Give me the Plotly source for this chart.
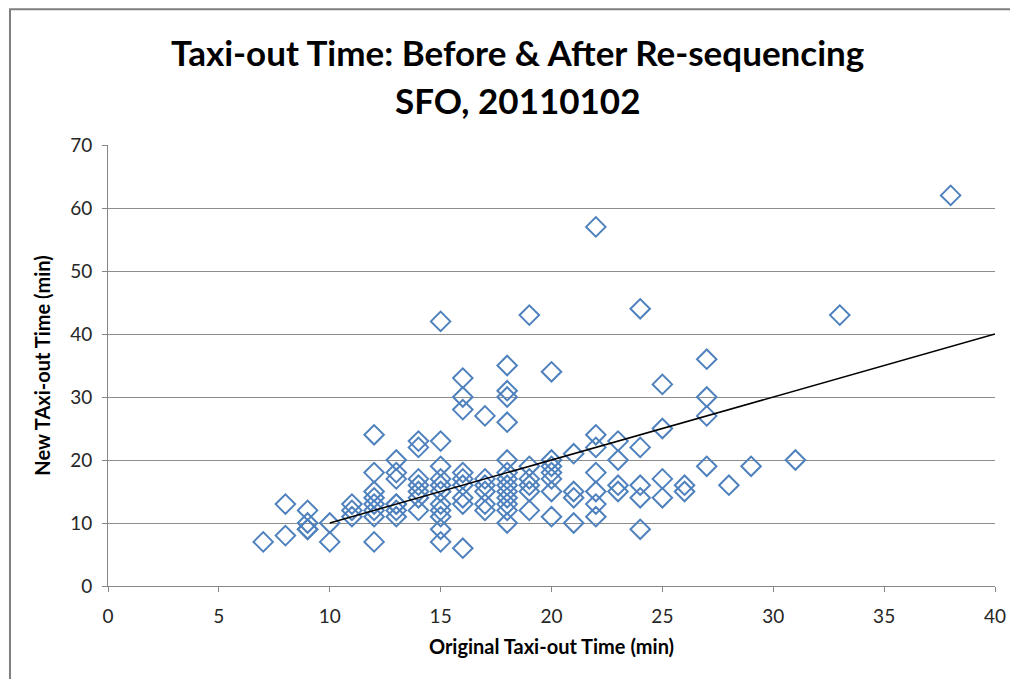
import plotly.graph_objects as go

# original taxi-out time (min) and new taxi-out time (min), read column by column
orig_time = (
    [7]
    + [8] * 2
    + [9] * 4
    + [10] * 2
    + [11] * 3
    + [12] * 8
    + [13] * 7
    + [14] * 7
    + [15] * 11
    + [16] * 9
    + [17] * 6
    + [18] * 13
    + [19] * 6
    + [20] * 7
    + [21] * 4
    + [22] * 7
    + [23] * 4
    + [24] * 5
    + [25] * 4
    + [26] * 2
    + [27] * 4
    + [28, 29, 31, 33, 38]
)
new_time = [
    7,
    13, 8,
    12, 10, 9, 9,
    10, 7,
    13, 12, 11,
    24, 18, 15, 14, 13, 12, 11, 7,
    20, 18, 17, 13, 13, 12, 11,
    23, 22, 17, 16, 15, 14, 12,
    42, 23, 19, 17, 16, 15, 13, 12, 11, 9, 7,
    33, 30, 28, 18, 17, 16, 14, 13, 6,
    27, 17, 16, 15, 13, 12,
    35, 31, 30, 26, 20, 18, 17, 16, 15, 14, 13, 12, 10,
    43, 19, 17, 16, 15, 12,
    34, 20, 19, 18, 17, 15, 11,
    21, 15, 14, 10,
    57, 24, 22, 18, 15, 13, 11,
    23, 20, 16, 15,
    44, 22, 16, 14, 9,
    32, 25, 17, 14,
    16, 15,
    36, 30, 27, 19,
    16, 19, 20, 43, 62,
]

# reference line (no change)
ref_x = [10, 40]
ref_y = [10, 40]

main_font = "Lato, 'Open Sans', sans-serif"

fig = go.Figure()
fig.add_trace(go.Scatter(
    x=orig_time, y=new_time, mode="markers",
    marker=dict(symbol="diamond-open", size=15, color="#4F81BD",
                line=dict(width=2, color="#4F81BD")),
    showlegend=False,
))
fig.add_trace(go.Scatter(
    x=ref_x, y=ref_y, mode="lines",
    line=dict(color="black", width=1.5),
    showlegend=False,
))

# page has an 8px body margin, so the figure is a bit smaller than the window
fig.update_layout(
    width=1010, height=671,
    margin=dict(l=100, r=23, t=137, b=93),
    paper_bgcolor="white", plot_bgcolor="white",
    font=dict(family=main_font, color="#000000"),
    annotations=[
        dict(text="<b>Taxi-out Time: Before &amp; After Re-sequencing</b>",
             xref="paper", yref="paper", x=0.462, y=1.212, xanchor="center", yanchor="middle",
             showarrow=False, font=dict(size=35, family=main_font)),
        dict(text="<b>SFO, 20110102</b>",
             xref="paper", yref="paper", x=0.462, y=1.103, xanchor="center", yanchor="middle",
             showarrow=False, font=dict(size=35, family=main_font)),
    ],
    shapes=[
        dict(type="rect", xref="paper", yref="paper", x0=-0.1105, x1=1.2, y0=-0.4, y1=1.308,
             line=dict(color="#7f7f7f", width=2), layer="below"),
    ],
)

fig.update_xaxes(
    range=[0, 40], dtick=5, showgrid=False, zeroline=False,
    showline=True, linecolor="#868686", linewidth=1,
    ticks="outside", ticklen=5, tickcolor="#868686",
    ticklabelstandoff=8,
    tickfont=dict(size=19, color="#262626"),
    title=dict(text="<b>Original Taxi-out Time (min)</b>", font=dict(size=20), standoff=14),
)
fig.update_yaxes(
    range=[0, 70], dtick=10, showgrid=True, gridcolor="#8c8c8c", gridwidth=1, zeroline=False,
    showline=True, linecolor="#868686", linewidth=1,
    ticks="outside", ticklen=5, tickcolor="#868686",
    ticklabelstandoff=6,
    tickfont=dict(size=19, color="#262626"),
    title=dict(text="<b>New TAxi-out Time (min)</b>", font=dict(size=20), standoff=14),
)

fig.write_html("out.html")
